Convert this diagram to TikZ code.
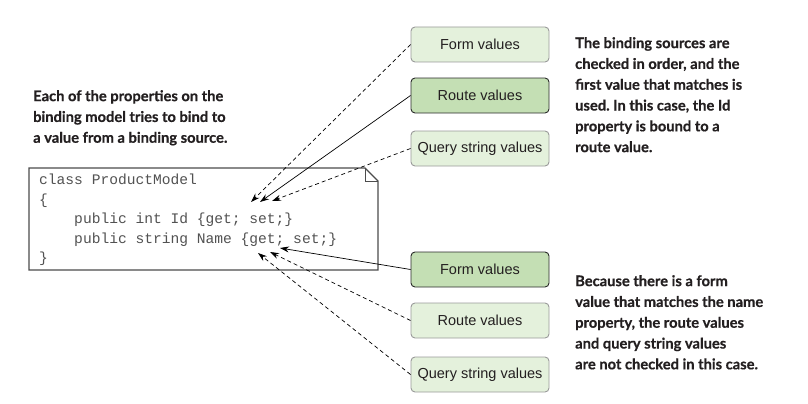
\documentclass[tikz,border=0pt]{standalone}
\usepackage{fontspec}
\setmainfont{Liberation Sans}
\newfontfamily\notefont[BoldFeatures={FakeBold=0.6}]{Lato}
\newfontfamily\codefont{Liberation Mono}
\usetikzlibrary{arrows.meta}
\definecolor{txt}{HTML}{231F20}
\definecolor{lightfill}{HTML}{E4F1DC}
\definecolor{darkfill}{HTML}{C4DFB4}
\definecolor{lightborder}{HTML}{9A9A9A}
\definecolor{darkborder}{HTML}{2A2A2A}
\tikzset{
  src/.style={draw=lightborder, fill=lightfill, rounded corners=4pt, line width=0.9pt,
    minimum width=138pt, minimum height=35pt, inner sep=0pt, text=txt,
    font=\fontsize{14.5}{16}\selectfont},
  srcon/.style={src, draw=darkborder, fill=darkfill},
  note/.style={anchor=north west, align=left, text=txt, inner sep=0pt,
    font=\notefont\bfseries\frenchspacing\fontsize{14.7}{20.8}\selectfont},
  codeline/.style={anchor=base west, inner sep=0pt, text=black!68,
    font=\codefont\fontsize{14.6}{19}\selectfont},
  arr/.style={-{Stealth[length=9pt,width=6pt]}, line width=0.7pt, black},
  dsh/.style={arr, dash pattern=on 4pt off 3pt},
}
\begin{document}
\begin{tikzpicture}[x=1pt,y=-1pt]
\useasboundingbox (0,0) rectangle (808,404);
% code box
\draw[draw=black!70, line width=1.2pt, fill=white] (29,168) -- (365,168) -- (378,181) -- (378,270) -- (29,270) -- cycle;
\draw[draw=black!70, line width=1pt] (365,168) -- (365,181) -- (378,181);
\node[codeline] (c1) at (39,184.5) {class ProductModel};
\node[codeline] (c2) at (39,204) {\{};
\node[codeline] (c3) at (39,223.5) {\ \ \ \ public int Id \{get; set;\}};
\node[codeline] (c4) at (39,243) {\ \ \ \ public string Name \{get; set;\}};
\node[codeline] (c5) at (39,262) {\}};
% notes
\node[note] (n1) at (33,90) {Each of the properties on the\\binding model tries to bind to\\a value from a binding source.};
\node[note] (n2) at (575,37) {The binding sources are\\checked in order, and the\\first value that matches is\\used. In this case, the Id\\property is bound to a\\route value.};
\node[note] (n3) at (575,275) {Because there is a form\\value that matches the name\\property, the route values\\and query string values\\are not checked in this case.};
% sources
\node[src] (f1) at (480,44.5) {Form values};
\node[srcon] (r1) at (480,95.5) {Route values};
\node[src] (q1) at (480,148.5) {Query string values};
\node[srcon] (f2) at (480,269.5) {Form values};
\node[src] (r2) at (480,320.5) {Route values};
\node[src] (q2) at (480,374.5) {Query string values};
% targets
\coordinate (t1) at (251,202);
\coordinate (t2) at (260,202);
\coordinate (t3) at (272,201);
\coordinate (t4) at (280,248);
\coordinate (t5) at (270,252);
\coordinate (t6) at (258,253);
% connectors
\draw[dsh] (f1.west) -- (t1);
\draw[arr] (r1.west) -- (t2);
\draw[dsh] (q1.west) -- (t3);
\draw[arr] (f2.west) -- (t4);
\draw[dsh] (r2.west) -- (t5);
\draw[dsh] (q2.west) -- (t6);
\end{tikzpicture}
\end{document}
